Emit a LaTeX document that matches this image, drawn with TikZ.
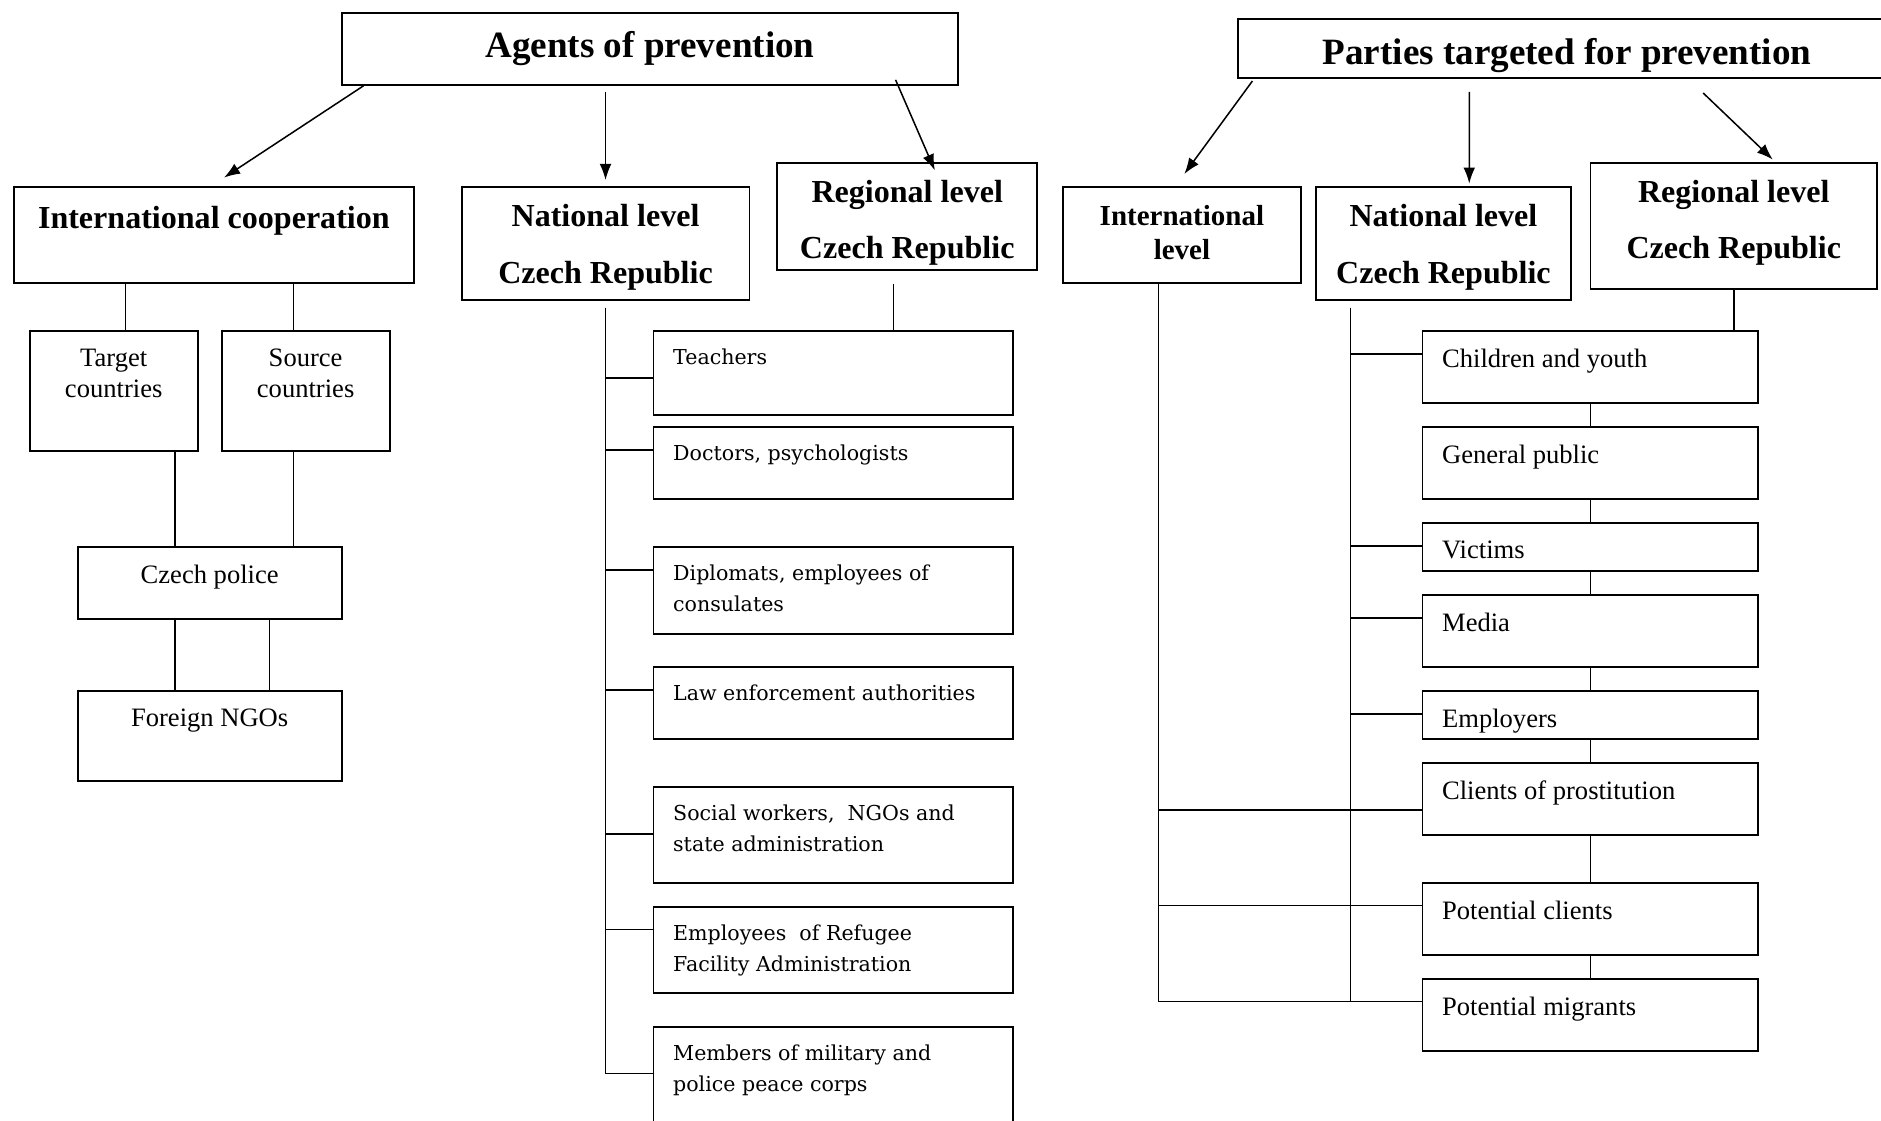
\documentclass[tikz,border=0pt]{standalone}
\usepackage{fontspec}
\setmainfont{Liberation Serif}
\newfontfamily\schfont{DejaVu Serif}
\usetikzlibrary{arrows.meta}
\newlength{\px}
\setlength{\px}{0.025cm}

\begin{document}
\begin{tikzpicture}[x=0.025cm, y=-0.025cm,
  box/.style={draw, line width=1.1pt, fill=white, inner sep=0pt, anchor=north west},
  hd/.style={box, align=center, font=\bfseries\fontsize{19}{33.4}\selectfont},
  hdl/.style={anchor=center, inner sep=0pt, align=center, font=\bfseries\fontsize{19}{33.4}\selectfont},
  ln/.style={line width=0.9pt},
  arr/.style={line width=0.9pt, -{Latex[length=9.5pt,width=7pt]}},
  lab/.style={anchor=north, inner xsep=0pt, inner ysep=11pt, align=center, font=\fontsize{15.75}{18.5}\selectfont},
  lsA/.style={anchor=north west, inner xsep=12pt, inner ysep=11pt, align=left, font=\schfont\fontsize{12.2}{18.5}\selectfont},
  lsB/.style={anchor=north west, inner xsep=12pt, inner ysep=11pt, align=left, font=\fontsize{15.75}{18.5}\selectfont}]
\useasboundingbox (0,0) rectangle (1568,934);
\clip (0,0) rectangle (1568,934);

% agents of prevention
\node[hd, minimum width=514\px, minimum height=60\px, font=\bfseries\fontsize{22}{26}\selectfont] (agents) at (284,10) {Agents of prevention};
\node[hd, minimum width=333\px, minimum height=80\px, label={[lab, inner ysep=12pt, font=\bfseries\fontsize{19}{22}\selectfont]north:International cooperation}] (intc) at (11,155) {};
\node[hd, minimum width=240\px, minimum height=94\px, label={[hdl, yshift=-3.5\px]center:{National level\\Czech Republic}}] (natA) at (384,155) {};
\node[hd, minimum width=217\px, minimum height=89\px, label={[hdl, yshift=-5.5\px]center:{Regional level\\Czech Republic}}] (regA) at (647,135) {};

\node[box, minimum width=140\px, minimum height=100\px, label={[lab]north:{Target\\countries}}] (targ) at (24,275) {};
\node[box, minimum width=140\px, minimum height=100\px, label={[lab]north:{Source\\countries}}] (sour) at (184,275) {};
\node[box, minimum width=220\px, minimum height=60\px, label={[lab]north:Czech police}] (pol) at (64,455) {};
\node[box, minimum width=220\px, minimum height=75\px, label={[lab]north:Foreign NGOs}] (ngo) at (64,575) {};

\node[box, minimum width=300\px, minimum height=70\px, label={[lsA]north west:Teachers}] (teach) at (544,275) {};
\node[box, minimum width=300\px, minimum height=60\px, label={[lsA]north west:{Doctors, psychologists}}] (doc) at (544,355) {};
\node[box, minimum width=300\px, minimum height=73\px, label={[lsA]north west:{Diplomats, employees of\\consulates}}] (dipl) at (544,455) {};
\node[box, minimum width=300\px, minimum height=60\px, label={[lsA]north west:{Law enforcement authorities}}] (law) at (544,555) {};
\node[box, minimum width=300\px, minimum height=80\px, label={[lsA]north west:{Social workers,~ NGOs and\\state administration}}] (soc) at (544,655) {};
\node[box, minimum width=300\px, minimum height=72\px, label={[lsA]north west:{Employees~ of Refugee\\Facility Administration}}] (empl) at (544,755) {};
\node[box, minimum width=300\px, minimum height=90\px, label={[lsA]north west:{Members of military and\\police peace corps}}] (memb) at (544,855) {};

% parties targeted
\node[hd, minimum width=549\px, minimum height=49\px, text height=19.5pt, text depth=0pt, font=\bfseries\fontsize{22}{26}\selectfont] (parties) at (1031,15) {Parties targeted for prevention};
\node[hd, minimum width=199\px, minimum height=80\px, label={[hdl, yshift=2\px, font=\bfseries\fontsize{17.2}{20}\selectfont]center:{International\\level}}] (intR) at (885,155) {};
\node[hd, minimum width=213\px, minimum height=94\px, label={[hdl, yshift=-3.5\px]center:{National level\\Czech Republic}}] (natR) at (1096,155) {};
\node[hd, minimum width=239\px, minimum height=105\px, label={[hdl, yshift=2.5\px]center:{Regional level\\Czech Republic}}] (regR) at (1325,135) {};

\node[box, minimum width=280\px, minimum height=60\px, label={[lsB]north west:Children and youth}] (child) at (1185,275) {};
\node[box, minimum width=280\px, minimum height=60\px, label={[lsB]north west:General public}] (gen) at (1185,355) {};
\node[box, minimum width=280\px, minimum height=40\px, label={[lsB]north west:Victims}] (vict) at (1185,435) {};
\node[box, minimum width=280\px, minimum height=60\px, label={[lsB]north west:Media}] (media) at (1185,495) {};
\node[box, minimum width=280\px, minimum height=40\px, label={[lsB]north west:Employers}] (emp) at (1185,575) {};
\node[box, minimum width=280\px, minimum height=60\px, label={[lsB]north west:Clients of prostitution}] (clie) at (1185,635) {};
\node[box, minimum width=280\px, minimum height=60\px, label={[lsB]north west:Potential clients}] (potc) at (1185,735) {};
\node[box, minimum width=280\px, minimum height=60\px, label={[lsB]north west:Potential migrants}] (potm) at (1185,815) {};

% arrows
\draw[arr] ([xshift=19\px]agents.south west) -- ([shift={(8.5,-7)}]intc.north);
\draw[arr, shorten <=5\px, shorten >=5\px] (natA.north |- agents.south) -- (natA.north);
\draw[arr] ([shift={(-53,-5)}]agents.south east) -- ([shift={(23,7)}]regA.north);
\draw[arr] ([shift={(13,2)}]parties.south west) -- ([shift={(2,-10)}]intR.north);
\draw[arr] ([shift={(-81.5,11)}]parties.south) -- ([shift={(21.5,-2)}]natR.north);
\draw[arr] ([shift={(113.5,12)}]parties.south) -- ([shift={(32.5,-2)}]regR.north);

% international cooperation
\draw[ln] ([xshift=10\px]targ.north) -- ([xshift=10\px]targ.north |- intc.south);
\draw[ln] ([xshift=-10\px]sour.north) -- ([xshift=-10\px]sour.north |- intc.south);
\draw[ln] ([xshift=51\px]targ.south) -- ([xshift=51\px]targ.south |- pol.north);
\draw[ln] ([xshift=-10\px]sour.south) -- ([xshift=-10\px]sour.south |- pol.north);
\draw[ln] ([xshift=-29\px]pol.south) -- ([xshift=-29\px]pol.south |- ngo.north);
\draw[ln] ([xshift=50\px]pol.south) -- ([xshift=50\px]pol.south |- ngo.north);

% national / regional agents
\coordinate (trA) at ([yshift=-6\px]natA.south);
\coordinate (rA) at ([shift={(-11.5,11)}]regA.south);
\draw[ln] (rA) -- (rA |- teach.north);
\draw[ln] (trA) |- ([yshift=-40\px]teach.north west);
\draw[ln] (trA) |- ([yshift=-20\px]doc.north west);
\draw[ln] (trA) |- ([yshift=-20\px]dipl.north west);
\draw[ln] (trA) |- ([yshift=-20\px]law.north west);
\draw[ln] (trA) |- ([yshift=-40\px]soc.north west);
\draw[ln] (trA) |- ([yshift=-20\px]empl.north west);
\draw[ln] (trA) |- ([yshift=-40\px]memb.north west);

% targeted parties
\coordinate (trI) at ([xshift=-19.5\px]intR.south);
\coordinate (trN) at ([shift={(-77.5,6)}]natR.south);
\draw[ln] (regR.south) -- (regR.south |- child.north);
\draw[ln] (child) -- (gen);
\draw[ln] (gen) -- (vict);
\draw[ln] (vict) -- (media);
\draw[ln] (media) -- (emp);
\draw[ln] (emp) -- (clie);
\draw[ln] (clie) -- (potc);
\draw[ln] (potc) -- (potm);
\draw[ln] (trN) |- ([yshift=-20\px]child.north west);
\draw[ln] (trN) |- ([yshift=-20\px]vict.north west);
\draw[ln] (trN) |- ([yshift=-20\px]media.north west);
\draw[ln] (trN) |- ([yshift=-20\px]emp.north west);
\draw[ln] (trN) |- ([yshift=-20\px]potm.north west);
\draw[ln] (trI) |- ([yshift=-40\px]clie.north west);
\draw[ln] (trI) |- ([yshift=-20\px]potc.north west);
\draw[ln] (trI) |- ([yshift=-20\px]potm.north west);
\end{tikzpicture}
\end{document}
